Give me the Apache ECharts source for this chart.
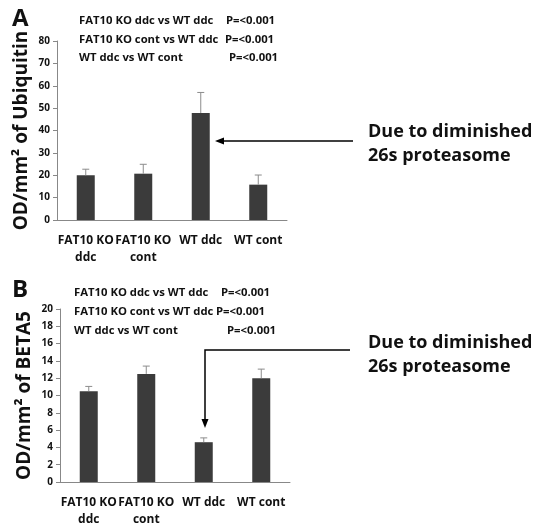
<!DOCTYPE html>
<html>
<head>
<meta charset="utf-8">
<script src="https://cdn.jsdelivr.net/npm/echarts@6/dist/echarts.min.js"></script>
<style>
  html, body { margin: 0; padding: 0; background: #fff; }
  #chart { width: 539px; height: 528px; }
</style>
</head>
<body>
<div id="chart"></div>
<script>
// two panels, same groups
var groups = ['FAT10 KO\nddc', 'FAT10 KO\ncont', 'WT ddc', 'WT cont'];

// panel A: ubiquitin
var ubiMean = [20, 20.7, 47.8, 15.8];
var ubiErr = [2.7, 4.2, 9.2, 4.3];
var ubiTicks = [0, 80, 10];   // min, max, step

// panel B: beta5
var betaMean = [10.5, 12.5, 4.6, 12.0];
var betaErr = [0.55, 0.9, 0.5, 1.05];
var betaTicks = [0, 20, 2];

var compLines = ['FAT10 KO ddc vs WT ddc', 'FAT10 KO cont vs WT ddc', 'WT ddc vs WT cont'];
var pText = 'P=<0.001';
var note = 'Due to diminished\n26s proteasome';

var FONT = 'Open Sans';
var barColor = '#3b3b3b';
var errColor = '#8c8c8c';

function errData(mean, err) {
  return mean.map(function (m, i) { return [i, m, err[i]]; });
}

function errRender(params, api) {
  var x = api.value(0), y = api.value(1), e = api.value(2);
  var base = api.coord([x, y]);
  var top = api.coord([x, y + e]);
  var style = { stroke: errColor, lineWidth: 1 };
  return {
    type: 'group',
    children: [
      { type: 'line', shape: { x1: base[0], y1: base[1], x2: top[0], y2: top[1] }, style: style },
      { type: 'line', shape: { x1: top[0] - 3.5, y1: top[1], x2: top[0] + 3.5, y2: top[1] }, style: style }
    ]
  };
}

function xAx(idx) {
  return {
    type: 'category', gridIndex: idx, data: groups,
    axisLine: { lineStyle: { color: '#888', width: 1 } },
    axisTick: { show: false },
    axisLabel: { color: '#111', fontFamily: FONT, fontWeight: 'bold', fontSize: 12, lineHeight: 17, margin: 12, interval: 0 }
  };
}

function yAx(idx, t, name) {
  return {
    type: 'value', gridIndex: idx, min: t[0], max: t[1], interval: t[2],
    name: name, nameLocation: 'middle', nameRotate: 90, nameGap: 26,
    nameTextStyle: { color: '#111', fontFamily: FONT, fontWeight: 'bold', fontSize: 19 },
    axisLine: { show: true, lineStyle: { color: '#888', width: 1 } },
    axisTick: { show: true, length: 4, lineStyle: { color: '#888' } },
    splitLine: { show: false },
    axisLabel: { color: '#111', fontFamily: FONT, fontWeight: 'bold', fontSize: 10, margin: 7 }
  };
}

function txt(x, y, s, size, lh) {
  return { type: 'text', left: x, top: y,
    style: { text: s, fill: '#111', font: 'bold ' + size + 'px "' + FONT + '"', lineHeight: lh || size * 1.38 } };
}

var graphics = [
  txt(12, 3, 'A', 24),
  txt(12, 274, 'B', 24),
  txt(368, 119, note, 18),
  txt(368, 330, note, 18),
  // arrow A: horizontal, pointing left
  { type: 'line', shape: { x1: 353, y1: 141, x2: 222, y2: 141 }, style: { stroke: '#000', lineWidth: 1.5 } },
  { type: 'polygon', shape: { points: [[215, 141], [224, 137.5], [224, 144.5]] }, style: { fill: '#000' } },
  // arrow B: elbow down
  { type: 'polyline', shape: { points: [[350, 350], [205, 350], [205, 421]] }, style: { stroke: '#000', lineWidth: 1.5, fill: null } },
  { type: 'polygon', shape: { points: [[205, 428], [201.5, 419], [208.5, 419]] }, style: { fill: '#000' } }
];
var pxA = [226, 225, 229], pxB = [221, 216, 227];
compLines.forEach(function (s, i) {
  graphics.push(txt(79, 12.5 + i * 18.5, s, 11.3, 17));
  graphics.push(txt(pxA[i], 12.5 + i * 18.5, pText, 11.3, 17));
  graphics.push(txt(74, 284.5 + i * 19, s, 11.3, 17));
  graphics.push(txt(pxB[i], 284.5 + i * 19, pText, 11.3, 17));
});

var chart = echarts.init(document.getElementById('chart'));
chart.setOption({
  backgroundColor: '#fff',
  animation: false,
  grid: [
    { left: 57, top: 41, width: 230, height: 179 },
    { left: 60, top: 309, width: 230, height: 180 }
  ],
  xAxis: [xAx(0), xAx(1)],
  yAxis: [yAx(0, ubiTicks, 'OD/mm² of Ubiquitin'), yAx(1, betaTicks, 'OD/mm² of BETA5')],
  series: [
    { type: 'bar', xAxisIndex: 0, yAxisIndex: 0, data: ubiMean, barWidth: 18, itemStyle: { color: barColor } },
    { type: 'custom', xAxisIndex: 0, yAxisIndex: 0, data: errData(ubiMean, ubiErr), renderItem: errRender, z: 3 },
    { type: 'bar', xAxisIndex: 1, yAxisIndex: 1, data: betaMean, barWidth: 18, itemStyle: { color: barColor } },
    { type: 'custom', xAxisIndex: 1, yAxisIndex: 1, data: errData(betaMean, betaErr), renderItem: errRender, z: 3 }
  ],
  graphic: graphics
});
</script>
</body>
</html>
